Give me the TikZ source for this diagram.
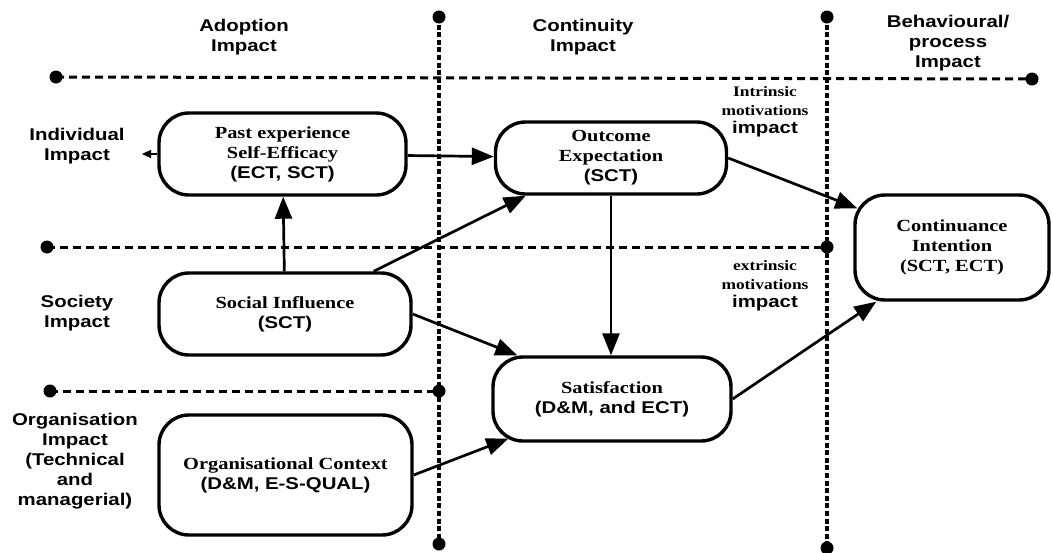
\documentclass[tikz,border=0pt]{standalone}
\usepackage{fontspec}
\setmainfont[FakeStretch=1.2]{Liberation Serif}
\setsansfont[FakeStretch=1.2]{Liberation Sans}
\usetikzlibrary{arrows.meta,calc}
\tikzset{
box/.style={draw,line width=3.4pt,rounded corners=30pt,align=center,inner sep=0pt,font=\fontsize{17}{20}\selectfont\bfseries},
link/.style={line width=2.7pt,-{Triangle[length=22pt,width=17pt]}},
rowline/.style={line width=3pt,dash pattern={on 8pt off 5pt}},
colline/.style={line width=4pt,dash pattern={on 5pt off 2.6pt}},
zone/.style={font=\sffamily\bfseries\fontsize{17}{20}\selectfont,align=center,inner sep=0pt},
motive/.style={font=\bfseries\fontsize{14.5}{18.5}\selectfont,align=center,inner sep=0pt}
}
\begin{document}
\begin{tikzpicture}[x=1pt,y=1pt,yscale=-1,xscale=1]
\useasboundingbox (0,0) rectangle (1053,552);

%Dotted columns
\coordinate (v1a) at (439,17);
\coordinate (v1b) at (439,544);
\coordinate (v2a) at (827,17);
\coordinate (v2b) at (827,548);
\draw [colline] (v1a) -- (v1b) ;
\draw [colline] (v2a) -- (v2b) ;
%Dashed rows
\coordinate (h1a) at (56,77);
\coordinate (h1b) at (1032,79);
\coordinate (h2a) at (47,247);
\coordinate (h2b) at (827,247);
\coordinate (h3a) at (50,391);
\coordinate (h3b) at (439,391);
\draw [rowline] (h1a) -- (h1b) ;
\draw [rowline] (h2a) -- (h2b) ;
\draw [rowline] (h3a) -- (h3b) ;
%End dots
\foreach \p in {v1a,v1b,v2a,v2b,h1a,h1b,h2a,h2b,h3a,h3b}
  \fill (\p) circle (6.5) ;

%Boxes
\node [box,minimum width=247pt,minimum height=82pt] (past) at (282.5,154) {Past experience\\Self-Efficacy\\\textsf{(ECT, SCT)}};
\node [box,minimum width=231pt,minimum height=72pt] (outcome) at (611,158) {Outcome\\Expectation\\\textsf{(SCT)}};
\node [box,minimum width=194pt,minimum height=105pt] (cont) at (952,247.5) {Continuance\\Intention\\(SCT, ECT)};
\node [box,minimum width=252pt,minimum height=82pt] (social) at (285,314) {Social Influence\\\textsf{(SCT)}};
\node [box,minimum width=253pt,minimum height=120pt] (org) at (285.5,475) {Organisational Context\\\textsf{(D\&M, E-S-QUAL)}};
\node [box,minimum width=238pt,minimum height=84pt] (satis) at (612,399) {Satisfaction\\\textsf{(D\&M, and ECT)}};

%Links
\coordinate (indiv) at (142,154);
\draw [line width=1.2pt,-{Triangle[length=9pt,width=8pt]}] (past.west) -- (indiv) ;
\draw [link] (past) -- (outcome) ;
\draw [link] (social) -- (past) ;
\draw [link] ($(social.north east)+(-39,0)$) -- ($(outcome.south west)+(32,0)$) ;
\draw [link] (social.east) -- ($(satis.north west)+(26,0)$) ;
\draw [link] (org.east) -- ($(satis.south west)+(17,-4)$) ;
\draw [link] (outcome.south) -- (outcome.south |- satis.north) ;
\draw [link] (outcome.east) -- ($(cont.north west)+(4,15)$) ;
\draw [link] (satis.east) -- ($(cont.south west)+(23,0)$) ;

% Text Node
\node [zone] (adopt) at (244,37) {Adoption\\Impact};
\node [zone] (contin) at (583,37) {Continuity\\Impact};
\node [zone] (behav) at (948,43) {Behavioural/\\process\\Impact};
\node [zone] (indivlab) at (77,146) {Individual\\Impact};
\node [zone] (society) at (77,313) {Society\\Impact};
\node [zone] (orglab) at (75,461) {Organisation\\Impact\\(Technical\\and\\managerial)};
\node [motive] (intr) at (765,112) {Intrinsic\\motivations\\{\sffamily\fontsize{17}{19}\selectfont impact}};
\node [motive] (extr) at (765,286) {extrinsic\\motivations\\{\sffamily\fontsize{17}{19}\selectfont impact}};

\end{tikzpicture}
\end{document}
